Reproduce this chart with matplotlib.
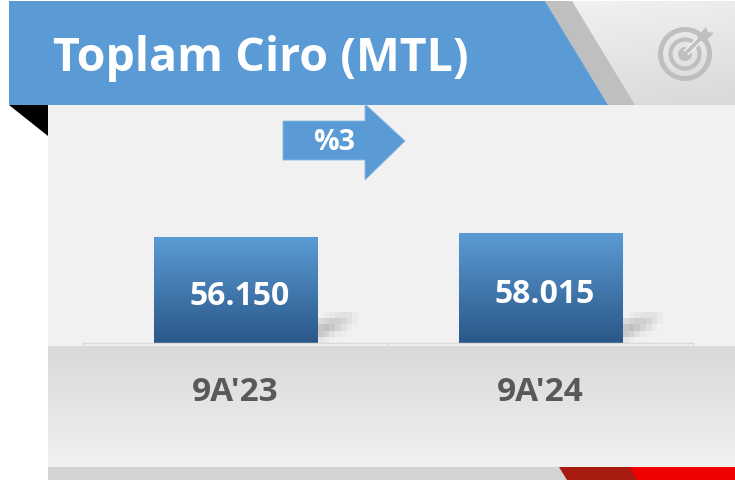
import numpy as np
import matplotlib
matplotlib.use("Agg")
import matplotlib.pyplot as plt
from matplotlib.patches import Polygon, Rectangle, Circle
from matplotlib.colors import LinearSegmentedColormap

plt.rcParams['font.family'] = ['Open Sans', 'DejaVu Sans']

title = "Toplam Ciro (MTL)"
change_label = "%3"
categories = ["9A'23", "9A'24"]
values = [56150, 58015]

W, H = 735, 480
fig = plt.figure(figsize=(W / 100, H / 100), dpi=100, facecolor="white")

# Decoration layer in pixel coordinates
bg = fig.add_axes([0, 0, 1, 1], zorder=0)
bg.set_xlim(0, W)
bg.set_ylim(H, 0)
bg.axis("off")


def vgrad(ax, extent, c0, c1, clip=None, zorder=1):
    cmap = LinearSegmentedColormap.from_list("g", [c0, c1])
    im = ax.imshow(np.linspace(0, 1, 256)[:, None], extent=extent, cmap=cmap,
                   aspect="auto", zorder=zorder, origin="upper")
    if clip is not None:
        im.set_clip_path(clip)
    return im


# Main panel
bg.add_patch(Rectangle((48, 105), W - 48, 242, fc="#f1f1f1", ec="none", zorder=1))
# Lower band
vgrad(bg, (48, W, 467, 346), "#d9d9d9", "#f1f1f1", zorder=2)
# Bottom strip
bg.add_patch(Rectangle((48, 467), W - 48, 13, fc="#d2d3d5", ec="none", zorder=3))
bg.add_patch(Polygon([(559, 467), (632, 467), (640, 480), (567, 480)], fc="#a81b11", ec="none", zorder=4))
bg.add_patch(Polygon([(629, 467), (735, 467), (735, 480), (637, 480)], fc="#f00000", ec="none", zorder=5))

# Header
xx, yy = np.meshgrid(np.linspace(0, 1, 200), np.linspace(0, 1, 100))
bg.imshow(yy * 0.8 + xx * 0.2, extent=(545, 735, 105, 1), aspect="auto", zorder=2,
          cmap=LinearSegmentedColormap.from_list("h", ["#f2f2f2", "#d9d9d9"]), origin="upper")
bg.add_patch(Polygon([(545, 1), (572, 1), (635, 105), (608, 105)], fc="#bfbfbf", ec="none", zorder=3))
bg.add_patch(Polygon([(9, 1), (545, 1), (608, 105), (9, 105)], fc="#5b9bd5", ec="none", zorder=4))
bg.add_patch(Polygon([(9, 105), (48, 105), (48, 136)], fc="black", ec="none", zorder=4))
bg.text(53, 58, title, color="white", fontsize=33.5, fontweight="bold", va="center", ha="left", zorder=6)

# Target icon
cx, cy = 685, 54
ic = "#bfbfbf"
bg.add_patch(Circle((cx, cy), 24.5, fc="none", ec=ic, lw=3.6, zorder=6))
bg.add_patch(Circle((cx, cy), 14.5, fc="none", ec=ic, lw=3.0, zorder=6))
bg.add_patch(Circle((cx, cy), 7, fc=ic, ec="none", zorder=6))
bg.plot([cx + 1, 702], [cy - 1, 37], color="#eeeeee", lw=5, zorder=7, solid_capstyle="butt")
bg.plot([cx, 702], [cy, 37], color=ic, lw=2.6, zorder=8, solid_capstyle="butt")
bg.add_patch(Polygon([(697, 37), (706, 27), (708, 32), (714, 33), (704, 43)], fc=ic, ec="none", zorder=8))

# Arrow
bg.add_patch(Polygon([(283, 121), (365, 121), (365, 104), (405, 141), (365, 180), (365, 160), (283, 160)],
                     fc="#5b9bd5", ec="#8ab8e0", lw=0.6, zorder=6))
bg.text(334, 142, change_label, color="white", fontsize=20.5, fontweight="bold", ha="center", va="center", zorder=7)

# Blurred shadows beside the bars
shadow = np.array([[0, .04, .08, .12, .14, .12, .05],
                   [.20, .26, .30, .30, .24, .14, .05],
                   [.38, .42, .36, .24, .14, .05, 0],
                   [.34, .26, .14, .06, .02, 0, 0],
                   [.10, .05, .01, 0, 0, 0, 0]])
scm = LinearSegmentedColormap.from_list("s", ["#f1f1f1", "#808080"])
for x0 in (318, 623):
    bg.imshow(shadow, extent=(x0, x0 + 40, 343, 312), cmap=scm, vmin=0, vmax=1,
              aspect="auto", interpolation="nearest", zorder=3, origin="upper")

bg.set_xlim(0, W)
bg.set_ylim(H, 0)

# Bar chart: axes spans x 83-693 px and y 105-343 px
ax = fig.add_axes([83 / W, (H - 343) / H, 610 / W, 238 / H], zorder=1)
ax.patch.set_alpha(0)
x = np.arange(len(categories))
ymax = 126500
bars = ax.bar(x, values, width=0.536, color="none", ec="none")
cmap_bar = LinearSegmentedColormap.from_list("b", ["#5b9bd5", "#2a5788"])
for b in bars:
    ax.imshow(np.linspace(0, 1, 256)[:, None], cmap=cmap_bar, aspect="auto", origin="upper",
              extent=(b.get_x(), b.get_x() + b.get_width(), 0, b.get_height()), zorder=2)
ax.set_xlim(-0.5, 1.5)
ax.set_ylim(0, ymax)
for xi, v in zip(x, values):
    ax.annotate(f"{v:,}".replace(",", "."), (xi, v / 2), xytext=(4, -6), textcoords="offset pixels",
                color="white", fontsize=23, fontweight="bold", ha="center", va="center", zorder=3)

for s in ("top", "right", "left"):
    ax.spines[s].set_visible(False)
ax.spines["bottom"].set_color("#d9d9d9")
ax.spines["bottom"].set_linewidth(1)
ax.set_yticks([])
ax.set_xticks(x, categories, color="#595959", fontsize=24, fontweight="bold")
ax.tick_params(axis="x", length=0, pad=24)
for xb in (-0.5, 0.5, 1.5):
    ax.plot([xb, xb], [0, -2000], color="#d9d9d9", lw=1, clip_on=False, zorder=1)
ax.set_ylim(0, ymax)

fig.savefig("out.png", dpi=100)
